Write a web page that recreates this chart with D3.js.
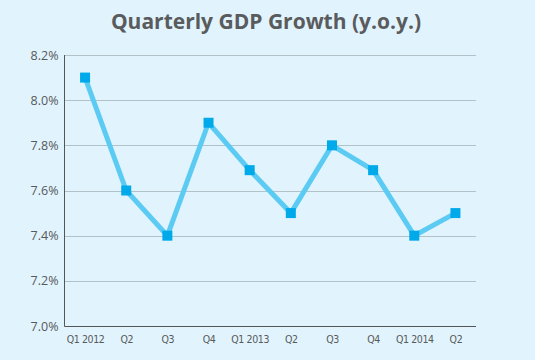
<!DOCTYPE html>
<html><head><meta charset="utf-8">
<script src="https://cdn.jsdelivr.net/npm/d3@7"></script>
<style>
html,body{margin:0;padding:0;background:#e1f4fd;}
svg{display:block;}
</style></head>
<body>
<script>
const categories = ["Q1 2012","Q2","Q3","Q4","Q1 2013","Q2","Q3","Q4","Q1 2014","Q2"];
const growth = [8.1, 7.6, 7.4, 7.9, 7.69, 7.5, 7.8, 7.69, 7.4, 7.5];
const yTicks = [7.0, 7.2, 7.4, 7.6, 7.8, 8.0, 8.2];
const title = "Quarterly GDP Growth (y.o.y.)";

(function(){
const W = 535, H = 360;
const svg = d3.select("body").append("svg").attr("width", W).attr("height", H);
svg.append("rect").attr("width", W).attr("height", H).attr("fill", "#e1f4fd");

const mL = 64.5, mR = 476, mT = 55, mB = 326;
const idx = categories.map((d,i)=>i);
const x = d3.scalePoint().domain(idx).range([mL, mR]).padding(0.5);
const y = d3.scaleLinear().domain([7.0, 8.2]).range([mB, mT]);

// gridlines
svg.append("g").selectAll("line").data(yTicks.filter(t=>t>7.0)).join("line")
  .attr("x1", mL).attr("x2", mR)
  .attr("y1", d=>Math.round(y(d))+0.5).attr("y2", d=>Math.round(y(d))+0.5)
  .attr("stroke", "#b3c1c8").attr("stroke-width", 1);

// y axis
const yAxis = svg.append("g").attr("transform", `translate(${mL},0)`)
  .call(d3.axisLeft(y).tickValues(yTicks).tickFormat(d=>d.toFixed(1)+"%").tickSize(0).tickPadding(6));
yAxis.select(".domain").attr("stroke", "#555").attr("d", `M0,${mT}V${mB+0.5}`);
yAxis.selectAll("text").attr("font-family", "'Open Sans', Lato, sans-serif").attr("font-size", 12.5).attr("fill", "#58595b");

// x axis
const xAxis = svg.append("g").attr("transform", `translate(0,${mB+0.5})`)
  .call(d3.axisBottom(x).tickFormat(i=>categories[i]).tickSize(0).tickPadding(9));
xAxis.select(".domain").attr("stroke", "#555").attr("d", `M${mL},0H${mR}`);
xAxis.selectAll("text").attr("font-family", "'DejaVu Sans Condensed', 'Liberation Sans Narrow', sans-serif")
  .style("font-stretch", "condensed").attr("font-size", 10.5).attr("fill", "#58595b")
  .attr("letter-spacing", -0.4);

// line
const line = d3.line().x((d,i)=>x(i)).y(d=>y(d));
svg.append("path").datum(growth).attr("d", line)
  .attr("fill", "none").attr("stroke", "#5ccbf4").attr("stroke-width", 5).attr("stroke-linejoin", "miter");

// markers
const s = 10;
svg.append("g").selectAll("rect").data(growth).join("rect")
  .attr("x", (d,i)=>x(i)-s/2).attr("y", d=>y(d)-s/2)
  .attr("width", s).attr("height", s).attr("fill", "#00a9ea");

// title
svg.append("text").attr("x", 266).attr("y", 29).attr("text-anchor", "middle")
  .attr("font-family", "'Open Sans', Lato, sans-serif").attr("font-weight", "bold")
  .attr("font-size", 21).attr("fill", "#5a5b5d").text(title);
})();
</script>
</body></html>
